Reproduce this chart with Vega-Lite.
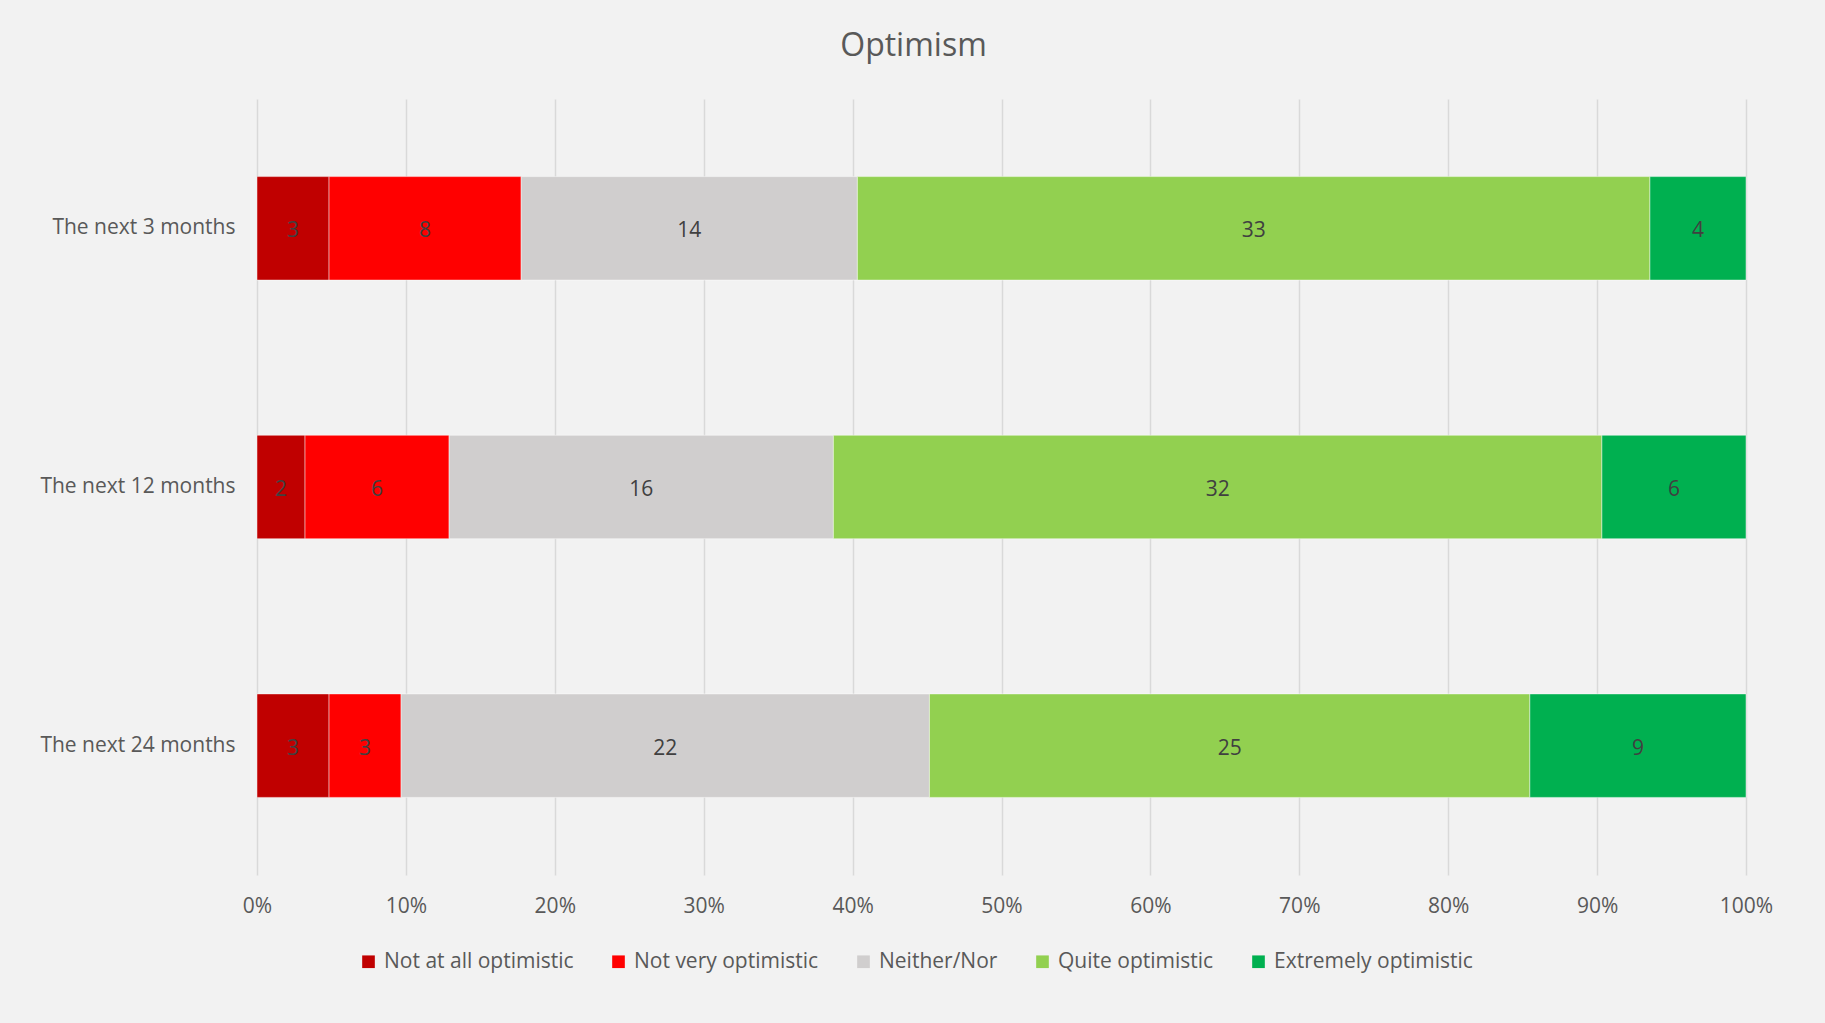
{
  "$schema": "https://vega.github.io/schema/vega-lite/v6.json",
  "autosize": {"type": "none"},
  "width": 1489,
  "height": 776,
  "padding": {"left": 257, "top": 99, "right": 79, "bottom": 148},
  "background": "#F2F2F2",
  "config": {"view": {"stroke": null}},
  "title": {"text": "Optimism", "fontSize": 32, "font": "Open Sans", "fontWeight": "normal", "color": "#595959", "anchor": "middle", "dx": -88, "offset": 36},
  "data": {"values": [
    {"period": "The next 3 months", "level": "Not at all optimistic", "k": 1, "n": 3},
    {"period": "The next 3 months", "level": "Not very optimistic", "k": 2, "n": 8},
    {"period": "The next 3 months", "level": "Neither/Nor", "k": 3, "n": 14},
    {"period": "The next 3 months", "level": "Quite optimistic", "k": 4, "n": 33},
    {"period": "The next 3 months", "level": "Extremely optimistic", "k": 5, "n": 4},
    {"period": "The next 12 months", "level": "Not at all optimistic", "k": 1, "n": 2},
    {"period": "The next 12 months", "level": "Not very optimistic", "k": 2, "n": 6},
    {"period": "The next 12 months", "level": "Neither/Nor", "k": 3, "n": 16},
    {"period": "The next 12 months", "level": "Quite optimistic", "k": 4, "n": 32},
    {"period": "The next 12 months", "level": "Extremely optimistic", "k": 5, "n": 6},
    {"period": "The next 24 months", "level": "Not at all optimistic", "k": 1, "n": 3},
    {"period": "The next 24 months", "level": "Not very optimistic", "k": 2, "n": 3},
    {"period": "The next 24 months", "level": "Neither/Nor", "k": 3, "n": 22},
    {"period": "The next 24 months", "level": "Quite optimistic", "k": 4, "n": 25},
    {"period": "The next 24 months", "level": "Extremely optimistic", "k": 5, "n": 9}
  ]},
  "encoding": {
    "y": {"field": "period", "type": "nominal", "sort": ["The next 3 months", "The next 12 months", "The next 24 months"],
      "scale": {"paddingInner": 0.6, "paddingOuter": 0.3},
      "axis": {"title": null, "domain": false, "ticks": false, "labelPadding": 22, "labelFontSize": 21, "labelLimit": 0, "labelFont": "Open Sans", "labelColor": "#595959"}}
  },
  "layer": [
    {
      "mark": {"type": "bar", "stroke": "#ffffff", "strokeWidth": 1, "strokeOpacity": 0.45},
      "encoding": {
        "x": {"field": "n", "type": "quantitative", "stack": "normalize",
          "scale": {"domain": [0, 1], "nice": false},
          "axis": {"title": null, "format": ".0%", "values": [0, 0.1, 0.2, 0.3, 0.4, 0.5, 0.6, 0.7, 0.8, 0.9, 1],
            "grid": true, "gridColor": "#D9D9D9", "gridWidth": 1.5, "domain": false, "ticks": false, "labelFlush": false,
            "labelPadding": 20, "labelFontSize": 21, "labelFont": "Open Sans", "labelColor": "#595959"}},
        "color": {"field": "level", "type": "nominal",
          "scale": {"domain": ["Not at all optimistic", "Not very optimistic", "Neither/Nor", "Quite optimistic", "Extremely optimistic"],
            "range": ["#C00000", "#FF0000", "#D0CECE", "#92D050", "#00B050"]},
          "legend": {"title": null, "orient": "none", "direction": "horizontal", "legendX": 101, "legendY": 852,
            "symbolType": "square", "symbolSize": 160, "symbolStrokeWidth": 0, "symbolOpacity": 1, "labelLimit": 0,
            "labelFontSize": 21, "labelFont": "Open Sans", "labelColor": "#595959", "labelOffset": 5, "columnPadding": 34}},
        "order": {"field": "k", "type": "quantitative"}
      }
    },
    {
      "mark": {"type": "text", "fontSize": 21, "font": "Open Sans", "color": "#404040", "baseline": "middle", "dy": 3},
      "encoding": {
        "x": {"field": "n", "type": "quantitative", "stack": "normalize", "bandPosition": 0.5},
        "text": {"field": "n", "type": "quantitative"},
        "order": {"field": "k", "type": "quantitative"}
      }
    }
  ]
}
